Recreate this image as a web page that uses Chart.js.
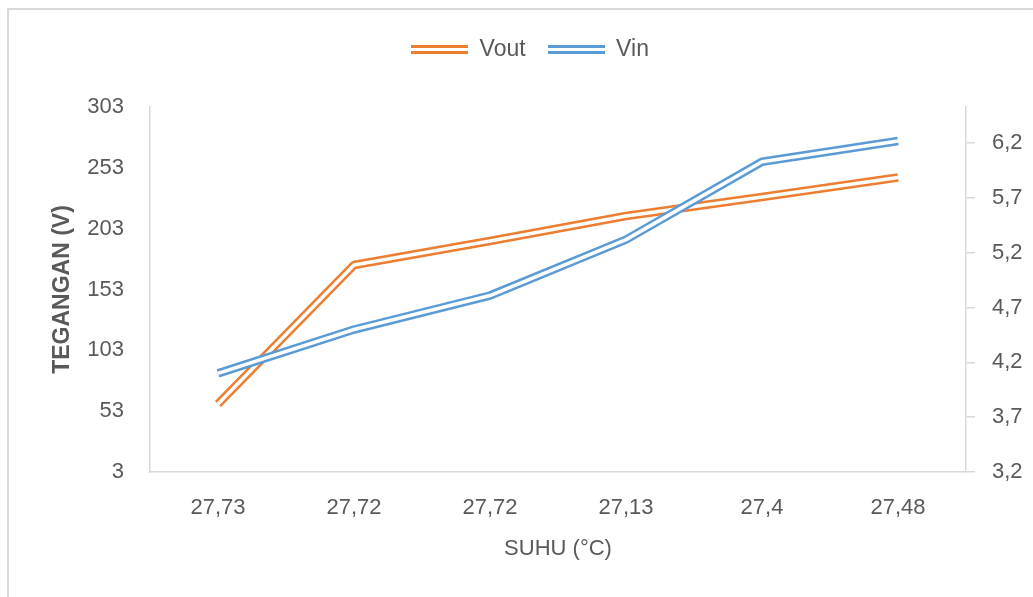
<!DOCTYPE html>
<html>
<head>
<meta charset="utf-8">
<script src="https://cdn.jsdelivr.net/npm/chart.js"></script>
<style>
  html, body { margin: 0; padding: 0; background: #fff; overflow: hidden; }
  #frame { position: absolute; left: 7px; top: 8px; width: 1100px; height: 700px; border: 2px solid #d9d9d9; box-sizing: border-box; }
  #wrap { position: absolute; left: 0; top: 0; width: 1060px; height: 597px; }
</style>
</head>
<body>
<div id="frame"></div>
<div id="wrap"><canvas id="chart"></canvas></div>
<script>
// data
const suhu = ['27,73', '27,72', '27,72', '27,13', '27,4', '27,48'];
const vout = [58.9, 173.1, 192.9, 213.4, 229.0, 245.1];
const vin = [4.10, 4.50, 4.81, 5.32, 6.03, 6.22];
const leftTicks = [3, 53, 103, 153, 203, 253, 303];
const rightTicks = [3.2, 3.7, 4.2, 4.7, 5.2, 5.7, 6.2];

const orange = '#ED7D31';
const blue = '#5B9BD5';
const textColor = '#595959';
const axisColor = '#d9d9d9';
const font = 'Liberation Sans';

// double line swatch for the legend
function makeSwatch(color) {
  const c = document.createElement('canvas');
  c.width = 57;
  c.height = 9;
  const g = c.getContext('2d');
  g.fillStyle = color;
  g.fillRect(0, 0, 57, 9);
  g.fillStyle = '#fff';
  g.fillRect(0, 3, 57, 3);
  return c;
}

const ctx = document.getElementById('chart').getContext('2d');

const chart = new Chart(ctx, {
  type: 'line',
  data: {
    labels: suhu,
    datasets: [
      { label: 'Vout', data: vout, borderColor: orange, borderWidth: 8.5, yAxisID: 'y', order: 4 },
      { label: 'Vout gap', data: vout, borderColor: '#fff', borderWidth: 3.5, yAxisID: 'y', order: 3 },
      { label: 'Vin', data: vin, borderColor: blue, borderWidth: 8.5, yAxisID: 'y1', order: 2 },
      { label: 'Vin gap', data: vin, borderColor: '#fff', borderWidth: 3.5, yAxisID: 'y1', order: 1 }
    ]
  },
  options: {
    responsive: true,
    maintainAspectRatio: false,
    animation: false,
    devicePixelRatio: 1,
    layout: { padding: { top: 16, left: 0, right: 0, bottom: 0 } },
    elements: {
      point: { radius: 0 },
      line: { tension: 0, borderJoinStyle: 'round', fill: false }
    },
    plugins: {
      tooltip: { enabled: false },
      legend: {
        position: 'top',
        labels: {
          usePointStyle: true,
          pointStyleWidth: 57,
          padding: 22,
          color: textColor,
          font: { family: font, size: 23 },
          generateLabels: () => [
            { text: 'Vout', pointStyle: makeSwatch(orange), datasetIndex: 0, hidden: false, lineWidth: 0, fillStyle: orange, strokeStyle: orange, fontColor: textColor },
            { text: 'Vin', pointStyle: makeSwatch(blue), datasetIndex: 2, hidden: false, lineWidth: 0, fillStyle: blue, strokeStyle: blue, fontColor: textColor }
          ]
        }
      }
    },
    scales: {
      x: {
        offset: true,
        grid: { display: false, drawTicks: false },
        border: { display: true, color: axisColor, width: 1.5 },
        ticks: { color: textColor, font: { family: font, size: 22 }, padding: 23, maxRotation: 0 },
        title: { display: true, text: 'SUHU (°C)', color: textColor, font: { family: font, size: 22 }, padding: { top: 10, bottom: 35 } },
        afterFit: (scale) => { scale.height = 125; }
      },
      y: {
        position: 'left',
        min: 3,
        max: 303,
        grid: { display: false, drawTicks: false },
        border: { display: true, color: axisColor, width: 1.5 },
        ticks: { color: textColor, font: { family: font, size: 22 }, padding: 26 },
        title: { display: true, text: 'TEGANGAN (V)', color: textColor, font: { family: font, size: 23, weight: 'bold' }, padding: { top: 49, bottom: 0 } },
        afterBuildTicks: (scale) => { scale.ticks = leftTicks.map(v => ({ value: v })); },
        afterFit: (scale) => { scale.width = 150; scale.paddingTop = 107; }
      },
      y1: {
        position: 'right',
        min: 3.2,
        max: 6.53,
        grid: { display: true, drawOnChartArea: false, drawTicks: true, tickLength: 9, color: axisColor, lineWidth: 1.5 },
        border: { display: true, color: axisColor, width: 1.5 },
        ticks: {
          color: textColor,
          font: { family: font, size: 22 },
          padding: 17,
          callback: (value) => value.toFixed(1).replace('.', ',')
        },
        afterBuildTicks: (scale) => { scale.ticks = rightTicks.map(v => ({ value: v })); },
        afterFit: (scale) => { scale.width = 94; }
      }
    }
  }
});

// make the legend box reach down to the plot top so the legend row sits near the frame top
const legendFit = chart.legend.fit;
chart.legend.fit = function () {
  legendFit.call(this);
  this.height = 107 - 16;
};
chart.update();
</script>
</body>
</html>
